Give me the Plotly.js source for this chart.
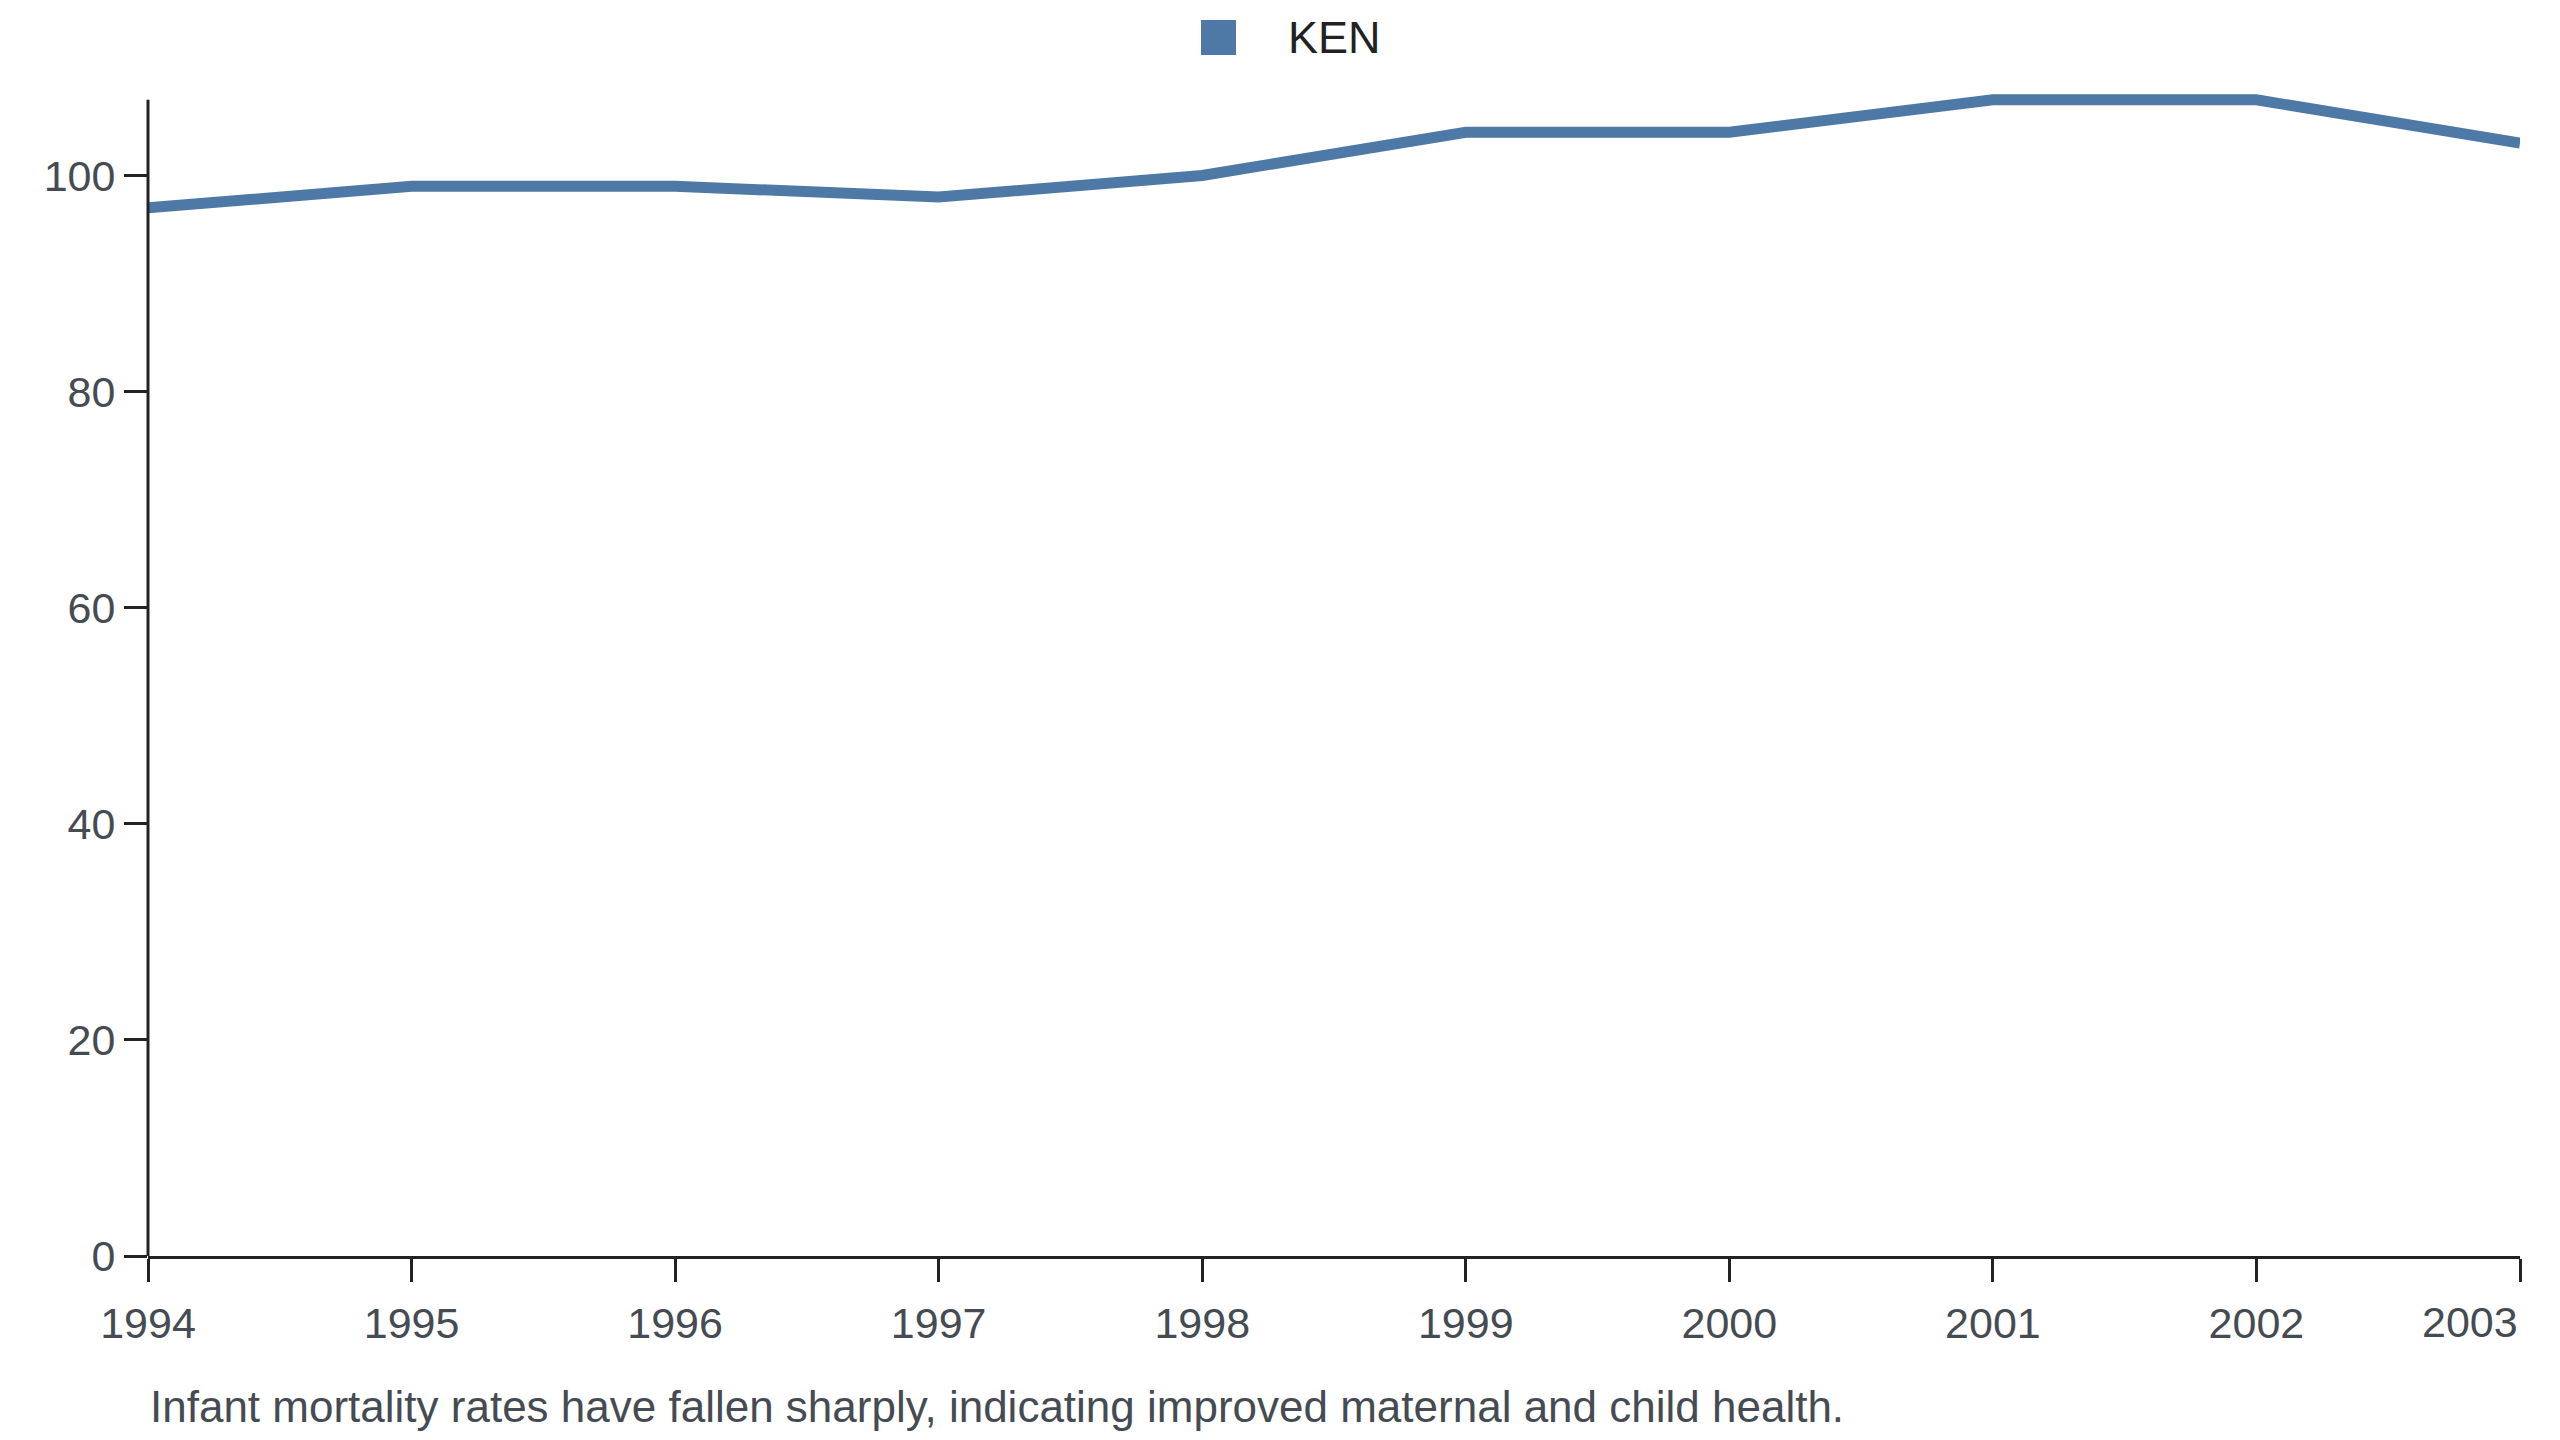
<!DOCTYPE html>
<html>
<head>
<meta charset="utf-8">
<script src="https://cdn.plot.ly/plotly-3.0.1.min.js"></script>
<style>
  html, body { margin: 0; padding: 0; background: #fff; }
  #chart { width: 2560px; height: 1440px; }
</style>
</head>
<body>
<div id="chart"></div>
<script>
// Kenya infant mortality, per 1000 live births
var years = [1994, 1995, 1996, 1997, 1998, 1999, 2000, 2001, 2002, 2003];
var ken = [97, 99, 99, 98, 100, 104, 104, 107, 107, 103];
var yTicks = [0, 20, 40, 60, 80, 100];
var yTop = 107;
var seriesName = "KEN";
var caption = "Infant mortality rates have fallen sharply, indicating improved maternal and child health.";

var blue = "#4e79a7";
var axisCol = "#222222";
var textCol = "#454b52";

// plot box in pixels; top margin leaves 1 extra unit so the thick line isn't clipped at 107
var W = 2560, H = 1440;
var M = { l: 148, r: 40, t: 89, b: 184 };
var pw = W - M.l - M.r, ph = H - M.t - M.b;
function px(x) { return (x - M.l) / pw; }
function py(y) { return (H - M.b - y) / ph; }

// last label is drawn as an annotation, right-aligned to the axis end
var xLabels = years.map(function (y, i) { return i === years.length - 1 ? "" : String(y); });

var data = [
  {
    type: "scatter",
    mode: "lines",
    x: years,
    y: ken,
    name: seriesName,
    line: { color: blue, width: 11 },
    showlegend: false,
    hoverinfo: "x+y"
  }
];

var axisStyle = {
  showgrid: false,
  zeroline: false,
  ticks: "outside",
  ticklen: 23,
  tickwidth: 3,
  tickcolor: axisCol
};

var layout = {
  width: W,
  height: H,
  margin: M,
  paper_bgcolor: "#fff",
  plot_bgcolor: "#fff",
  font: { family: "Liberation Sans, Arial, sans-serif", size: 42, color: textCol },
  showlegend: false,
  xaxis: Object.assign({}, axisStyle, {
    range: [years[0], years[years.length - 1]],
    tickvals: years,
    ticktext: xLabels,
    ticklabelstandoff: 4,
    showline: true,
    linecolor: axisCol,
    linewidth: 3,
    tickfont: { size: 43, color: textCol }
  }),
  yaxis: Object.assign({}, axisStyle, {
    range: [0, yTop + 1],
    tickvals: yTicks,
    showline: false,
    tickfont: { size: 43, color: textCol }
  }),
  shapes: [
    // y axis line, stops at the data max
    {
      type: "line",
      xref: "paper",
      yref: "y",
      x0: 0, x1: 0,
      y0: 0, y1: yTop,
      line: { color: axisCol, width: 3 }
    },
    // legend swatch
    {
      type: "rect",
      xref: "paper",
      yref: "paper",
      x0: px(1201),
      x1: px(1236),
      y0: py(55),
      y1: py(20),
      fillcolor: blue,
      line: { width: 0 }
    }
  ],
  annotations: [
    {
      xref: "paper",
      yref: "paper",
      x: px(1286),
      y: py(37),
      xanchor: "left",
      yanchor: "middle",
      showarrow: false,
      text: seriesName,
      font: { size: 45, color: "#222" }
    },
    {
      xref: "x",
      yref: "paper",
      x: years[years.length - 1],
      y: py(1322),
      xanchor: "right",
      yanchor: "middle",
      showarrow: false,
      text: String(years[years.length - 1]),
      font: { size: 43, color: textCol }
    },
    {
      xref: "paper",
      yref: "paper",
      x: 0,
      y: py(1406),
      xanchor: "left",
      yanchor: "middle",
      showarrow: false,
      text: caption,
      font: { size: 44, color: textCol }
    }
  ]
};

Plotly.newPlot("chart", data, layout, { displayModeBar: false });
</script>
</body>
</html>
